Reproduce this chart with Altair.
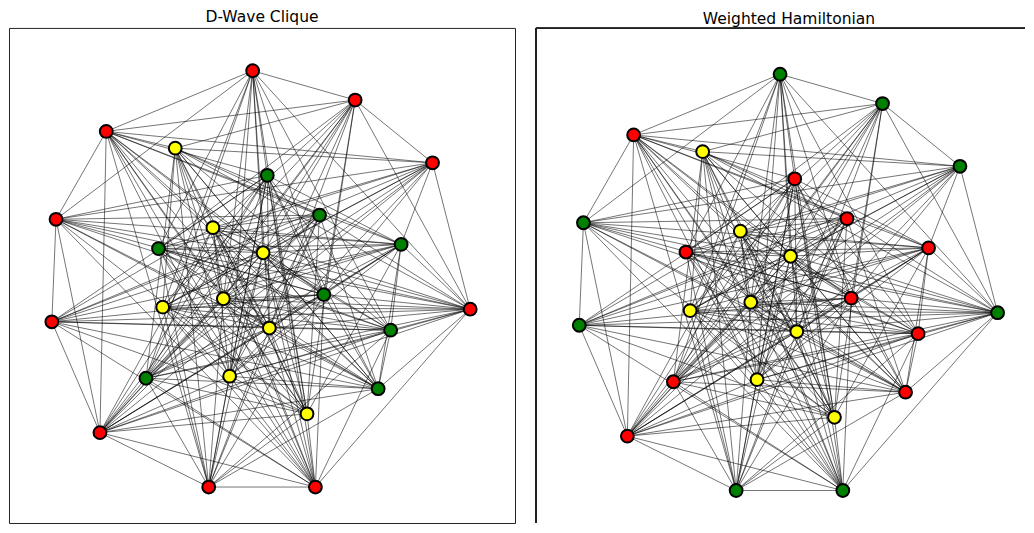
import altair as alt
import pandas as pd

# Node layout (shared by both panels)
node_ids = list(range(1, 27))
node_x = [-0.04, 0.45, -0.74, -0.41, 0.82, 0.03, 0.28, -0.98, -0.23, -0.49, 0.01, 0.67, 0.30,
          -0.18, -0.47, 1.00, -1.00, 0.04, 0.62, -0.55, -0.15, 0.56, 0.22, -0.77, -0.25, 0.26]
node_y = [1.00, 0.86, 0.71, 0.63, 0.56, 0.50, 0.31, 0.29, 0.25, 0.15, 0.13, 0.17, -0.07,
          -0.09, -0.13, -0.14, -0.20, -0.23, -0.24, -0.47, -0.46, -0.52, -0.64, -0.73, -0.99, -0.99]

colors_left = ["red", "red", "red", "yellow", "red", "green", "green", "red", "yellow", "green",
               "yellow", "green", "green", "yellow", "yellow", "red", "red", "yellow", "green", "green",
               "yellow", "green", "yellow", "red", "red", "red"]
colors_right = ["green", "green", "red", "yellow", "green", "red", "red", "green", "yellow", "red",
                "yellow", "red", "red", "yellow", "yellow", "green", "green", "yellow", "red", "red",
                "yellow", "red", "yellow", "red", "green", "green"]

# Adjacency
adjacency = {
    1: [2, 3, 6, 8, 10, 11, 14, 15, 18, 19, 20, 23, 13, 16, 21],
    2: [3, 5, 4, 9, 10, 11, 13, 14, 15, 16, 18, 20, 21, 23, 24],
    3: [5, 8, 24, 4, 6, 7, 9, 11, 12, 13, 14, 18, 21, 22, 23, 25, 26],
    4: [5, 7, 11, 12, 14, 16, 18, 19, 21, 22, 23, 25, 26, 15, 20],
    5: [8, 9, 10, 12, 14, 15, 16, 17, 20, 21, 24, 11, 13],
    6: [8, 10, 12, 14, 15, 17, 19, 20, 22, 23, 24, 25, 26, 13, 18, 21],
    7: [8, 9, 10, 14, 15, 16, 17, 20, 21, 22, 24, 25, 11, 18, 23],
    8: [11, 12, 13, 16, 17, 18, 19, 22, 23, 24, 26],
    9: [12, 13, 16, 19, 22, 23, 24, 26, 17, 14, 18, 20, 21],
    10: [11, 12, 13, 16, 19, 22, 23, 26, 18, 21, 25],
    11: [16, 17, 20, 22, 24, 25, 26, 12, 13, 15, 19, 21, 23],
    12: [14, 15, 16, 17, 20, 21, 24, 13, 18, 19, 22, 23],
    13: [15, 17, 20, 24, 25, 16, 14, 21, 22, 26],
    14: [16, 19, 22, 24, 26, 18, 20, 23, 25],
    15: [16, 19, 22, 23, 26, 18, 21, 25],
    16: [17, 19, 20, 21, 22, 24, 26, 18],
    17: [18, 19, 22, 23, 24, 26],
    18: [20, 22, 24, 25, 19, 23, 26],
    19: [20, 21, 24, 25, 22, 26],
    20: [22, 23, 26, 24, 25],
    21: [22, 24, 26, 23, 25],
    22: [24, 25],
    23: [24, 25, 26],
    24: [25, 26],
    25: [26],
}

pos = {i: (x, y) for i, x, y in zip(node_ids, node_x, node_y)}
edge_rows = []
seen = set()
for a, nbrs in adjacency.items():
    for b in nbrs:
        key = (min(a, b), max(a, b))
        if key in seen:
            continue
        seen.add(key)
        edge_rows.append({"x": pos[a][0], "y": pos[a][1], "x2": pos[b][0], "y2": pos[b][1]})
edges_df = pd.DataFrame(edge_rows)

BORDER = "#222222"


def panel(colors, title, width, height, xdom, ydom, full_border, title_offset, title_dx, border_top):
    nodes_df = pd.DataFrame({"id": node_ids, "x": node_x, "y": node_y, "c": colors})
    xs = alt.Scale(domain=xdom, nice=False, zero=False)
    ys = alt.Scale(domain=ydom, nice=False, zero=False)
    edges = alt.Chart(edges_df).mark_rule(color="black", opacity=0.55, strokeWidth=1).encode(
        x=alt.X("x:Q", scale=xs, axis=None),
        y=alt.Y("y:Q", scale=ys, axis=None),
        x2="x2:Q",
        y2="y2:Q",
    )
    nodes = alt.Chart(nodes_df).mark_point(
        filled=True, size=165, stroke="black", strokeWidth=2, opacity=1, strokeOpacity=1
    ).encode(
        x=alt.X("x:Q", scale=xs, axis=None),
        y=alt.Y("y:Q", scale=ys, axis=None),
        fill=alt.Fill("c:N", scale=None),
    )
    layers = [edges, nodes]
    if not full_border:
        top = alt.Chart(nodes_df).mark_rule(color=BORDER, strokeWidth=1).encode(
            x=alt.value(0), x2=alt.value(width), y=alt.value(border_top))
        left = alt.Chart(nodes_df).mark_rule(color=BORDER, strokeWidth=1).encode(
            x=alt.value(0), y=alt.value(border_top), y2=alt.value(height))
        layers += [top, left]
    view = alt.ViewBackground(stroke=BORDER, strokeWidth=1) if full_border else alt.ViewBackground(stroke=None)
    return alt.layer(*layers).properties(
        width=width,
        height=height,
        view=view,
        title=alt.TitleParams(
            text=title, font="DejaVu Sans", fontSize=15.6, fontWeight="normal",
            color="black", offset=title_offset, dx=title_dx, anchor="middle",
        ),
    )


left = panel(colors_left, "D-Wave Clique", 508, 497, [-1.2048, 1.2143], [-1.1619, 1.2047],
             True, 2, 0, 0)
right = panel(colors_right, "Weighted Hamiltonian", 491, 497, [-1.2071, 1.1310], [-1.1453, 1.2214],
              False, 0.5, 8.5, 0.5)

chart = alt.hconcat(left, right, spacing=19).properties(padding=0).configure_view(stroke=None)

chart.save("out.html", embed_options={"renderer": "svg", "actions": False})
